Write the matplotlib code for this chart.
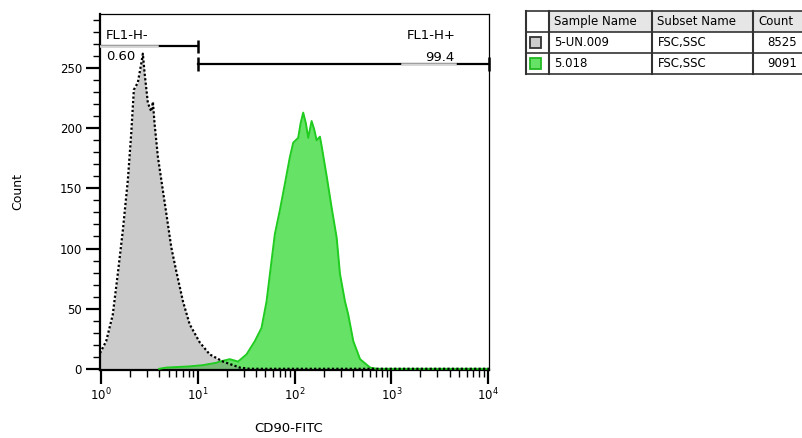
import numpy as np
import matplotlib
matplotlib.use("Agg")
import matplotlib.pyplot as plt
from matplotlib.patches import Rectangle
from matplotlib.ticker import LogLocator, MultipleLocator, NullFormatter

plt.rcParams["font.family"] = ["DejaVu Sans"]

# histogram of the unstained sample (log10 of FL1 value, count)
unst_log = [-0.012, 0.052, 0.120, 0.172, 0.224, 0.276, 0.311, 0.338, 0.379, 0.415,
            0.431, 0.449, 0.483, 0.518, 0.535, 0.552, 0.587, 0.622, 0.674, 0.725,
            0.777, 0.846, 0.915, 1.019, 1.122, 1.260, 1.433, 1.536, 4.01]
unst_cnt = [13, 23, 45, 79, 115, 157, 196, 232, 238, 254,
            262, 246, 221, 214, 222, 204, 176, 157, 129, 101,
            81, 56, 37, 22, 12, 6, 1, 0, 0]

# histogram of the CD90 stained sample
cd90_log = [0.60, 0.674, 0.915, 1.05, 1.192, 1.226, 1.330, 1.416, 1.503, 1.589,
            1.658, 1.710, 1.762, 1.796, 1.848, 1.900, 1.951, 1.986, 2.037, 2.062,
            2.089, 2.117, 2.141, 2.176, 2.203, 2.228, 2.262, 2.280, 2.332, 2.383,
            2.435, 2.469, 2.521, 2.555, 2.607, 2.677, 2.781, 2.850, 4.01]
cd90_cnt = [0, 1, 2, 3, 5, 6, 8, 6, 12, 23,
            34, 56, 90, 112, 132, 154, 176, 188, 192, 204,
            213, 204, 192, 206, 199, 190, 193, 185, 160, 134,
            109, 79, 56, 45, 23, 8, 1, 0, 0]

# gates
gate_names = ["FL1-H-", "FL1-H+"]
gate_pcts = ["0.60", "99.4"]
gate_split = 10
gate_levels = [268, 253.5]

# table
col_heads = ["", "Sample Name", "Subset Name", "Count"]
sample_names = ["5-UN.009", "5.018"]
subset_names = ["FSC,SSC", "FSC,SSC"]
counts = ["8525", "9091"]

xmin, xmax = 10 ** -0.012, 10 ** 4.01
ymin, ymax = -1, 295

gray_fill = "#8c8c8c"
green_fill = "#66e266"
green_line = "#1fcc1f"

fig = plt.figure(figsize=(8.03, 4.38), dpi=100)
ax = fig.add_axes([100 / 803, 68 / 438, 389 / 803, 356 / 438])

x_unst = 10 ** np.array(unst_log)
x_cd90 = 10 ** np.array(cd90_log)

ax.fill_between(x_cd90, cd90_cnt, 0, color=green_fill, lw=0, zorder=1)
ax.fill_between(x_unst, unst_cnt, 0, color=gray_fill, alpha=0.45, lw=0, zorder=2)
ax.plot(x_cd90, cd90_cnt, color=green_line, lw=1.4, zorder=3)
ax.plot(x_unst, unst_cnt, color="black", lw=1.6, dashes=(1, 1), zorder=4)

ax.set_xscale("log")
ax.set_xlim(xmin, xmax)
ax.set_ylim(ymin, ymax)

ax.xaxis.set_major_locator(LogLocator(base=10, numticks=10))
ax.xaxis.set_minor_locator(LogLocator(base=10, subs=np.arange(2, 10), numticks=20))
ax.xaxis.set_minor_formatter(NullFormatter())
ax.yaxis.set_major_locator(MultipleLocator(50))
ax.yaxis.set_minor_locator(MultipleLocator(10))

ax.tick_params(which="major", length=10, width=1.6, labelsize=8.5, pad=3)
ax.tick_params(which="minor", length=5, width=1)
ax.tick_params(axis="x", which="major", pad=2)

for side in ["left", "bottom"]:
    ax.spines[side].set_linewidth(1.6)
for side in ["top", "right"]:
    ax.spines[side].set_linewidth(0.9)

ax.set_ylabel("Count", fontsize=9)
ax.set_xlabel("CD90-FITC", fontsize=9.5)
ax.yaxis.set_label_coords(-0.195, 0.5)
ax.xaxis.set_label_coords(0.485, -0.145)

# gates: black bar with end caps, light bar under the percentage label
ranges = [(xmin, gate_split), (gate_split, xmax)]
for i, (lo, hi) in enumerate(ranges):
    yv = gate_levels[i]
    ax.plot([lo, hi], [yv, yv], color="black", lw=1.6, zorder=6, clip_on=False)
    caps = [hi] if i == 0 else [lo, hi]
    for c in caps:
        ax.plot([c, c], [yv - 5.5, yv + 5.5], color="black", lw=1.8,
                zorder=6, clip_on=False, solid_capstyle="butt")

ax.plot([xmin, 10 ** 0.573], [gate_levels[0]] * 2, color="#d4d4d4", lw=1.8, zorder=7)
ax.plot([10 ** 3.109, 10 ** 3.661], [gate_levels[1]] * 2, color="#d4d4d4", lw=1.8, zorder=7)

ax.text(10 ** 0.05, 277, gate_names[0], fontsize=9.5, ha="left", va="center", zorder=8)
ax.text(10 ** 0.05, 259.5, gate_pcts[0], fontsize=9.5, ha="left", va="center", zorder=8)
ax.text(10 ** 3.661, 277, gate_names[1], fontsize=9.5, ha="right", va="center", zorder=8)
ax.text(10 ** 3.655, 259, gate_pcts[1], fontsize=9.5, ha="right", va="center", zorder=8)

# legend table in the top right
tab = fig.add_axes([526 / 803, (438 - 75) / 438, 277 / 803, 65 / 438])
tab.set_xlim(526, 803)
tab.set_ylim(75, 10)
tab.axis("off")

col_edges = [526, 549, 652.5, 753, 830]
row_edges = [11, 32, 53, 74]
edge = "#333333"

for j in range(1, 4):
    tab.add_patch(Rectangle((col_edges[j], row_edges[0]), col_edges[j + 1] - col_edges[j],
                            row_edges[1] - row_edges[0], facecolor="#e6e6e6",
                            edgecolor="none", clip_on=False))
for yv in row_edges:
    tab.plot([col_edges[0], col_edges[-1]], [yv, yv], color=edge, lw=1.2, clip_on=False)
for xv in col_edges[:-1]:
    tab.plot([xv, xv], [row_edges[0], row_edges[-1]], color=edge, lw=1.5, clip_on=False)

for j in range(1, 4):
    tab.text(col_edges[j] + 5, (row_edges[0] + row_edges[1]) / 2, col_heads[j],
             fontsize=8.5, ha="left", va="center")

swatch_face = ["#cccccc", green_fill]
swatch_edge = ["#333333", "#22b822"]
for i in range(2):
    yc = (row_edges[i + 1] + row_edges[i + 2]) / 2
    tab.add_patch(Rectangle((530.5, yc - 5.5), 11, 11, facecolor=swatch_face[i],
                            edgecolor=swatch_edge[i], lw=1.3))
    tab.text(col_edges[1] + 5, yc, sample_names[i], fontsize=8.5, ha="left", va="center")
    tab.text(col_edges[2] + 5, yc, subset_names[i], fontsize=8.5, ha="left", va="center")
    tab.text(797, yc, counts[i], fontsize=8.5, ha="right", va="center")

fig.savefig("out.png", dpi=100)
